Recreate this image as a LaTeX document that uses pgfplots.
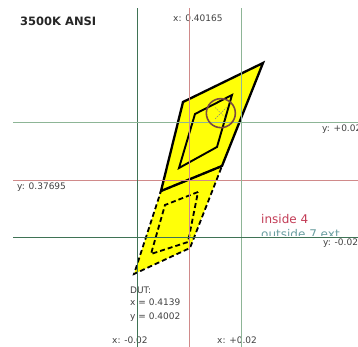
\documentclass[border=0pt]{standalone}
\usepackage{pgfplots}
\pgfplotsset{compat=1.18}
\usepackage{fontspec}
\setmainfont{DejaVu Sans}

\definecolor{quadyellow}{HTML}{FFFF08}
\definecolor{refred}{HTML}{D08A8A}
\definecolor{refgreen}{HTML}{3F7355}
\definecolor{refgreenlt}{HTML}{8DB596}
\definecolor{dutcirc}{HTML}{7A4A40}
\definecolor{insidered}{HTML}{C23B55}
\definecolor{outsideteal}{HTML}{6A9EA0}

\tikzset{
  lbl/.style={inner sep=0pt, anchor=base west, font=\fontsize{9}{10}\selectfont, black!75},
}

\begin{document}
\begin{tikzpicture}
\begin{axis}[
    name=ax,
    scale only axis,
    width=358pt, height=347pt,
    xmin=0.328958, xmax=0.46665,
    ymin=0.318863, ymax=0.439559,
    axis line style={draw=none},
    ticks=none,
  ]

  % ANSI 3500K quadrangle: fill of both halves
  \addplot[fill=quadyellow, draw=none] coordinates {
    (0.43011,0.41765) (0.39934,0.40408) (0.39088,0.37312) (0.41434,0.38182)
  } -- cycle;
  \addplot[fill=quadyellow, draw=none] coordinates {
    (0.41434,0.38182) (0.39088,0.37312) (0.38050,0.34425) (0.40203,0.35330)
  } -- cycle;

  % lower half (dashed) and its inner quad
  \addplot[black, line width=1.8pt, dash pattern=on 5pt off 3pt] coordinates {
    (0.41434,0.38182) (0.39088,0.37312) (0.38050,0.34425) (0.40203,0.35330)
  } -- cycle;
  \addplot[black, line width=1.8pt, dash pattern=on 5pt off 3pt] coordinates {
    (0.40511,0.37278) (0.39242,0.36825) (0.38703,0.35121) (0.40127,0.35539)
  } -- cycle;

  % upper half (solid) and its inner quad
  \addplot[black, line width=2.3pt, line join=miter] coordinates {
    (0.43011,0.41765) (0.39934,0.40408) (0.39088,0.37312) (0.41434,0.38182)
  } -- cycle;
  \addplot[black, line width=1.9pt] coordinates {
    (0.41819,0.40652) (0.40396,0.39991) (0.39780,0.38112) (0.41242,0.38843)
  } -- cycle;

  % DUT
  \addplot[draw=dutcirc, line width=1.6pt, only marks, mark=o, mark size=14.5pt,
    mark options={solid, draw=dutcirc, line width=1.6pt}] coordinates {(0.4139,0.4002)};
  \addplot[gray, only marks, mark=x, mark size=8pt,
    mark options={draw=gray, line width=0.4pt, dash pattern=on 1.5pt off 1pt}]
    coordinates {(0.4139,0.4002)};

  % labels
  \node[lbl, font=\fontsize{11.5}{12}\bfseries, black!85] at (rel axis cs:0.0559,0.9251) {3500K ANSI};
  \node[lbl] at (rel axis cs:0.4832,0.9366) {x: 0.40165};
  \node[lbl] at (rel axis cs:0.8994,0.6196) {y: +0.02};
  \node[lbl] at (rel axis cs:0.0475,0.4553) {y: 0.37695};
  \node[lbl] at (rel axis cs:0.9022,0.2939) {y: -0.02};
  \node[lbl, font=\fontsize{12}{13}\selectfont, insidered] at (rel axis cs:0.7291,0.3573) {inside 4};
  \begin{scope}
    \clip (rel axis cs:0.70,0.3199) rectangle (rel axis cs:1,0.345);
    \node[lbl, font=\fontsize{12}{13}\selectfont, outsideteal] at (rel axis cs:0.7291,0.3141) {outside 7 ext};
  \end{scope}
  \node[lbl] at (rel axis cs:0.3631,0.1556) {DUT:};
  \node[lbl] at (rel axis cs:0.3631,0.1210) {x = 0.4139};
  \node[lbl] at (rel axis cs:0.3631,0.0778) {y = 0.4002};
  \node[lbl] at (rel axis cs:0.3128,0.0115) {x: -0.02};
  \node[lbl] at (rel axis cs:0.6061,0.0115) {x: +0.02};

  % reference lines: centre and +/-0.02
  \addplot[refred, line width=0.8pt] coordinates {(0.40165,0.318863) (0.40165,0.43678)};
  \addplot[refred, line width=0.8pt] coordinates {(0.33396,0.37695) (0.46665,0.37695)};
  \addplot[refgreen, line width=0.8pt] coordinates {(0.38165,0.318863) (0.38165,0.43678)};
  \addplot[refgreenlt, line width=0.8pt] coordinates {(0.42165,0.318863) (0.42165,0.43678)};
  \addplot[refgreenlt, line width=0.8pt] coordinates {(0.33396,0.39695) (0.46665,0.39695)};
  \addplot[refgreen, line width=0.8pt] coordinates {(0.33396,0.35695) (0.46665,0.35695)};

\end{axis}
\pgfresetboundingbox
\path[use as bounding box] (ax.south west) rectangle (ax.north east);
\end{tikzpicture}
\end{document}
